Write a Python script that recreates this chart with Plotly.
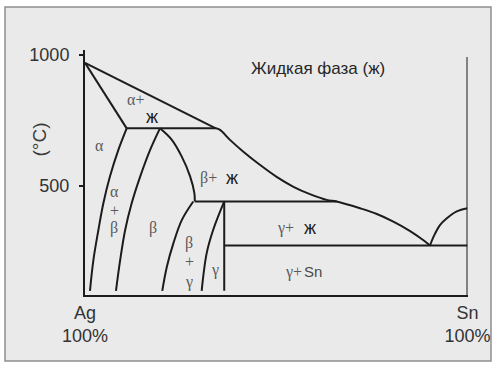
import plotly.graph_objects as go

# Ag–Sn phase diagram (composition in % Sn, temperature in °C)
liq_upper_x = [0, 34.2]
liq_upper_t = [970, 720]

liq_main_x = [34.2, 35.3, 37.9, 41.4, 45.8, 50.1, 54.5, 58.8, 63.2, 65.8, 71.9, 76.3, 80.6, 85.0, 88.4, 90.2]
liq_main_t = [720, 714, 676, 631, 580, 535, 497, 469, 447, 441, 415, 393, 364, 328, 294, 273]

liq_sn_x = [90.2, 91.1, 92.8, 94.6, 97.2, 100]
liq_sn_t = [273, 306, 351, 377, 403, 415]

sol_alpha_x = [0, 10.9]
sol_alpha_t = [970, 720]

perit_hi_x = [10.9, 34.2]
perit_hi_t = [720, 720]

alpha_solvus_x = [10.9, 8.7, 6.5, 4.8, 3.5, 2.2, 1.3]
alpha_solvus_t = [720, 637, 535, 434, 332, 218, 100]

beta_left_x = [19.6, 17.0, 14.4, 12.2, 10.5, 9.2, 8.1]
beta_left_t = [720, 637, 535, 434, 332, 218, 100]

beta_right_x = [19.6, 22.7, 25.3, 27.5, 28.6, 28.7]
beta_right_t = [720, 676, 612, 536, 472, 441]

perit_lo_x = [28.7, 65.8]
perit_lo_t = [441, 441]

beta_gamma_x = [28.3, 25.3, 23.1, 21.4, 20.2]
beta_gamma_t = [441, 370, 281, 192, 100]

gamma_left_x = [36.4, 33.5, 31.8, 30.5]
gamma_left_t = [441, 332, 243, 100]

gamma_right_x = [36.4, 36.4]
gamma_right_t = [441, 100]

eutectic_x = [36.4, 100]
eutectic_t = [273, 273]

sn_edge_x = [100, 100]
sn_edge_t = [992, 84]

# y ticks and composition end labels
y_tick_vals = [500, 1000]
y_tick_text = ["500", "1000"]
x_tick_vals = [0, 100]
x_tick_text = ["Ag<br>100%", "Sn<br>100%"]

# phase-field labels: (text, x, T, kind)
greek_labels = ["α+", "α", "α", "+", "β", "β", "β+", "β", "+", "γ", "γ", "γ+", "γ+"]
greek_x = [13.1, 3.8, 7.7, 7.7, 7.7, 17.9, 32.2, 27.2, 27.2, 27.2, 34.0, 52.5, 54.4]
greek_t = [831, 656, 478, 408, 339, 339, 529, 281, 211, 135, 179, 339, 173]

zh_labels = ["ж", "ж", "ж"]
zh_x = [17.4, 38.4, 58.8]
zh_t = [762, 529, 339]

sans_labels = ["Sn"]
sans_x = [59.6]
sans_t = [173]

title_text = "Жидкая фаза (ж)"
title_x, title_t = 61.0, 949

LINE = "#1c1c1c"
fig = go.Figure()


def add_line(xs, ts, smooth=False):
    fig.add_trace(go.Scatter(
        x=xs, y=ts, mode="lines",
        line=dict(color=LINE, width=2, shape="spline" if smooth else "linear"),
        cliponaxis=False, hoverinfo="skip", showlegend=False,
    ))


add_line(liq_upper_x, liq_upper_t)
add_line(liq_main_x, liq_main_t, smooth=True)
add_line(liq_sn_x, liq_sn_t, smooth=True)
add_line(sol_alpha_x, sol_alpha_t)
add_line(perit_hi_x, perit_hi_t)
add_line(alpha_solvus_x, alpha_solvus_t, smooth=True)
add_line(beta_left_x, beta_left_t, smooth=True)
add_line(beta_right_x, beta_right_t, smooth=True)
add_line(perit_lo_x, perit_lo_t)
add_line(beta_gamma_x, beta_gamma_t, smooth=True)
add_line(gamma_left_x, gamma_left_t, smooth=True)
add_line(gamma_right_x, gamma_right_t)
add_line(eutectic_x, eutectic_t)
add_line(sn_edge_x, sn_edge_t)

annotations = []
for txt, x, t in zip(greek_labels, greek_x, greek_t):
    annotations.append(dict(x=x, y=t, xref="x", yref="y", text=txt, showarrow=False,
                            font=dict(family="Liberation Serif", size=16, color="#5a5a5a")))
for txt, x, t in zip(zh_labels, zh_x, zh_t):
    annotations.append(dict(x=x, y=t, xref="x", yref="y", text=txt, showarrow=False,
                            font=dict(family="Liberation Sans", size=18, color="#1e1e1e")))
for txt, x, t in zip(sans_labels, sans_x, sans_t):
    annotations.append(dict(x=x, y=t, xref="x", yref="y", text=txt, showarrow=False,
                            font=dict(family="Liberation Sans", size=15, color="#4a4a4a")))
annotations.append(dict(x=title_x, y=title_t, xref="x", yref="y", text=title_text, showarrow=False,
                        font=dict(family="Liberation Sans", size=17, color="#262626")))
annotations.append(dict(x=26 / 493, y=(365 - 121) / 365, xref="paper", yref="paper", text="(°C)",
                        showarrow=False, textangle=-90,
                        font=dict(family="Liberation Sans", size=19, color="#3a3a3a")))

fig.update_layout(
    width=493, height=365, autosize=False,
    margin=dict(l=0, r=0, t=0, b=0),
    paper_bgcolor="white", plot_bgcolor="rgba(0,0,0,0)",
    annotations=annotations,
    shapes=[dict(type="rect", xref="paper", yref="paper", layer="below",
                 x0=5 / 493, x1=491 / 493, y0=(365 - 361) / 365, y1=(365 - 7) / 365,
                 fillcolor="#eaeaea", line=dict(color="#8f8f8f", width=1.5))],
    xaxis=dict(domain=[85 / 493, 467.5 / 493], range=[0, 100], showgrid=False, zeroline=False,
               showline=True, linecolor=LINE, linewidth=2, ticks="",
               tickvals=x_tick_vals, ticktext=x_tick_text, automargin=False,
               tickfont=dict(family="Liberation Sans", size=18, color="#333333")),
    yaxis=dict(domain=[(365 - 295) / 365, (365 - 50) / 365], range=[84, 1019], showgrid=False,
               zeroline=False, showline=True, linecolor=LINE, linewidth=2,
               ticks="outside", ticklen=4, tickwidth=1.5, tickcolor=LINE,
               tickvals=y_tick_vals, ticktext=y_tick_text, automargin=False, ticklabelstandoff=6,
               tickfont=dict(family="Liberation Sans", size=18, color="#333333")),
)

fig.write_html("out.html")
